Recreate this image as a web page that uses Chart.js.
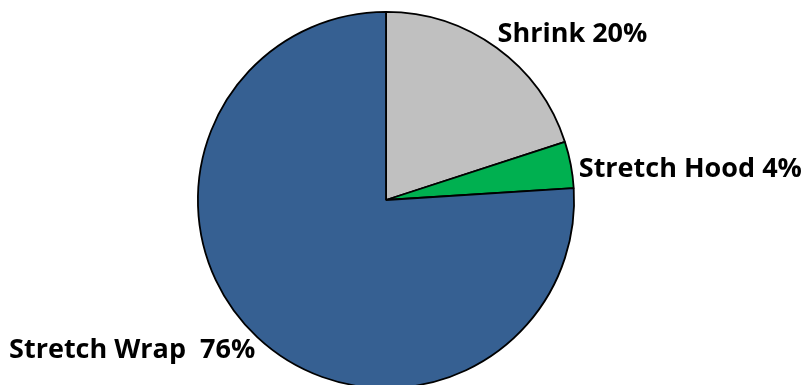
<!DOCTYPE html>
<html>
<head>
<meta charset="utf-8">
<script src="https://cdn.jsdelivr.net/npm/chart.js@4/dist/chart.umd.min.js"></script>
<style>
  html, body { margin: 0; padding: 0; background: #fff; overflow: hidden; }
  #wrap { position: relative; width: 803px; height: 400px; }
</style>
</head>
<body>
<div id="wrap"><canvas id="chartPkg"></canvas></div>
<script>
  // ===== Datos =====
  const labels = ["Shrink", "Stretch Hood", "Stretch Wrap"];
  const shares = [20, 4, 76];
  const colors = ["#c0c0c0", "#00b050", "#366092"];
  const labelText = ["Shrink 20%", "Stretch Hood 4%", "Stretch Wrap  76%"];

  // posición de cada etiqueta respecto al borde del sector (en su ángulo medio)
  const labelPlace = [
    { dx: 1, dy: -14, align: "left" },
    { dx: 8, dy: 5, align: "left" },
    { dx: -2, dy: 13, align: "right" }
  ];

  const outsideLabels = {
    id: "outsideLabels",
    afterDatasetsDraw(chart) {
      const ctx = chart.ctx;
      const arcs = chart.getDatasetMeta(0).data;
      ctx.save();
      ctx.font = "bold 27px 'Open Sans'";
      ctx.fillStyle = "#000";
      ctx.textBaseline = "middle";
      arcs.forEach((arc, i) => {
        const mid = (arc.startAngle + arc.endAngle) / 2;
        const r = arc.outerRadius;
        const x = arc.x + Math.cos(mid) * r + labelPlace[i].dx;
        const y = arc.y + Math.sin(mid) * r + labelPlace[i].dy;
        ctx.textAlign = labelPlace[i].align;
        ctx.fillText(labelText[i], x, y);
      });
      ctx.restore();
    }
  };

  new Chart(document.getElementById("chartPkg"), {
    type: "pie",
    data: {
      labels,
      datasets: [{
        data: shares,
        backgroundColor: colors,
        borderColor: "#000",
        borderWidth: 1.8
      }]
    },
    options: {
      responsive: true,
      maintainAspectRatio: false,
      animation: false,
      layout: { padding: { left: 197, right: 228, top: 11, bottom: 11 } },
      plugins: {
        legend: { display: false },
        tooltip: { enabled: false }
      }
    },
    plugins: [outsideLabels]
  });
</script>
</body>
</html>
